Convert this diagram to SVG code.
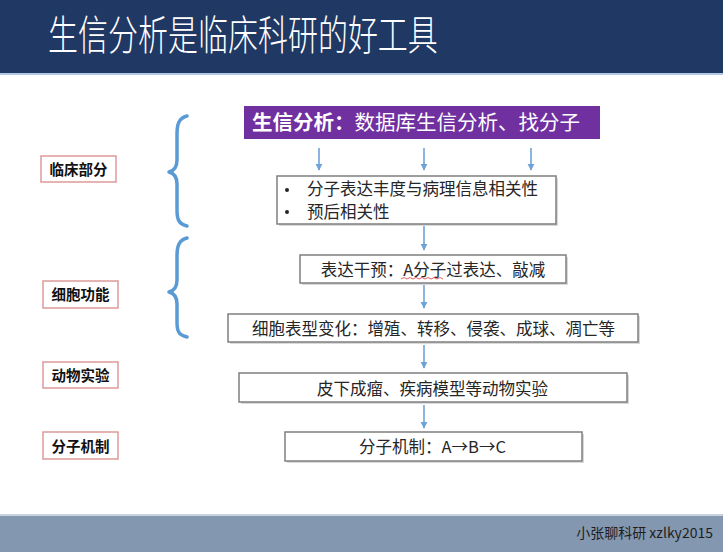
<svg xmlns="http://www.w3.org/2000/svg" width="723" height="552" viewBox="0 0 723 552">
<style>
.cjk{font-family:"Noto Sans CJK SC","Liberation Sans",sans-serif}
.box{fill:#ffffff;stroke:#7f7f7f;stroke-width:1.5}
.shadow{fill:#d9d9d9}
.lbl{fill:#ffffff;stroke:#dc9a99;stroke-width:1.5}
.lbltxt{font-family:"Noto Sans CJK SC",sans-serif;font-size:14.5px;font-weight:700;fill:#111111;text-anchor:middle}
.body{font-family:"Noto Sans CJK SC",sans-serif;font-size:16.5px;fill:#262626}
.brace{fill:none;stroke:#5b9bd5;stroke-width:3.5;stroke-linecap:round;stroke-linejoin:round}
.arr{stroke:#6fa3d8;stroke-width:1.6;fill:none}
</style>
<defs>
<marker id="ah" viewBox="0 0 10 10" refX="9" refY="5" markerWidth="4.5" markerHeight="4.5" orient="auto" markerUnits="strokeWidth">
<path d="M0,0 L10,5 L0,10 Z" fill="#6fa3d8"/>
</marker>
</defs>
<rect x="0" y="0" width="723" height="552" fill="#ffffff"/>
<!-- header -->
<g id="header">
<rect x="0" y="0" width="723" height="73" fill="#203864"/>
<rect x="0" y="73" width="723" height="2" fill="#b4c7e7"/>
<text class="cjk" transform="translate(48,50) scale(1,1.35)" font-size="30" font-weight="300" fill="#ffffff">生信分析是临床科研的好工具</text>
</g>
<!-- footer -->
<g id="footer">
<rect x="0" y="514" width="723" height="2" fill="#c9d2df"/>
<rect x="0" y="516" width="723" height="36" fill="#8497b0"/>
<text class="cjk" x="713" y="538" font-size="14" fill="#1e1e1e" text-anchor="end">小张聊科研 xzlky2015</text>
</g>
<!-- braces -->
<g id="brace1"><path class="brace" d="M187,116 C179,118 177,124 177,134 L177,160 C177,168 173,171 169,172 C173,173 177,176 177,184 L177,210 C177,220 179,224 187,226"/></g>
<g id="brace2"><path class="brace" d="M187,238 C179,240 177,246 177,256 L177,280 C177,288 173,291 169,292 C173,293 177,296 177,304 L177,322 C177,332 179,335 187,337"/></g>
<!-- left labels -->
<g id="label-clinical"><rect class="lbl" x="41" y="156" width="75" height="26"/><text class="lbltxt" x="78.5" y="174.5">临床部分</text></g>
<g id="label-cell"><rect class="lbl" x="43" y="281" width="75" height="27"/><text class="lbltxt" x="80.5" y="300">细胞功能</text></g>
<g id="label-animal"><rect class="lbl" x="43" y="362" width="75" height="26"/><text class="lbltxt" x="80.5" y="381">动物实验</text></g>
<g id="label-mech"><rect class="lbl" x="43" y="432" width="75" height="27"/><text class="lbltxt" x="80.5" y="452">分子机制</text></g>
<!-- purple node -->
<g id="node-bioinfo">
<rect x="244" y="106" width="356" height="33" fill="#7030a0"/>
<text class="cjk" x="252" y="130" font-size="20.5" fill="#ffffff"><tspan font-weight="700">生信分析：</tspan>数据库生信分析、找分子</text>
</g>
<!-- node 2 -->
<g id="node-correlation">
<rect class="shadow" x="279" y="178" width="279" height="48"/>
<rect class="box" x="277" y="176" width="279" height="48"/>
<circle cx="287" cy="190" r="2" fill="#262626"/>
<circle cx="287" cy="212" r="2" fill="#262626"/>
<text class="body" x="307" y="195">分子表达丰度与病理信息相关性</text>
<text class="body" x="307" y="218">预后相关性</text>
</g>
<!-- node 3 -->
<g id="node-intervention">
<rect class="shadow" x="302" y="257" width="266" height="28"/>
<rect class="box" x="300" y="255" width="266" height="28"/>
<text class="body" x="433" y="276" text-anchor="middle">表达干预：A分子过表达、敲减</text>
<path d="M401,279 l3,-1.5 l3,1.5 l3,-1.5 l3,1.5 l3,-1.5 l3,1.5 l3,-1.5 l3,1.5 l3,-1.5 l3,1.5 l3,-1.5 l3,1.5 l3,-1.5 l3,1.5" fill="none" stroke="#e05050" stroke-width="0.9"/>
</g>
<!-- node 4 -->
<g id="node-phenotype">
<rect class="shadow" x="230" y="316" width="410" height="28"/>
<rect class="box" x="228" y="314" width="410" height="28"/>
<text class="body" x="433.5" y="335" text-anchor="middle">细胞表型变化：增殖、转移、侵袭、成球、凋亡等</text>
</g>
<!-- node 5 -->
<g id="node-animal">
<rect class="shadow" x="241" y="375" width="388" height="29"/>
<rect class="box" x="239" y="373" width="388" height="29"/>
<text class="body" x="432.5" y="395" text-anchor="middle">皮下成瘤、疾病模型等动物实验</text>
</g>
<!-- node 6 -->
<g id="node-mechanism">
<rect class="shadow" x="287" y="434" width="297" height="29"/>
<rect class="box" x="285" y="432" width="297" height="29"/>
<text class="body" x="432.5" y="453" text-anchor="middle">分子机制：A→B→C</text>
</g>
<!-- connectors -->
<g id="connectors">
<line class="arr" x1="319" y1="148" x2="319" y2="170" marker-end="url(#ah)"/>
<line class="arr" x1="424" y1="148" x2="424" y2="170" marker-end="url(#ah)"/>
<line class="arr" x1="531" y1="148" x2="531" y2="170" marker-end="url(#ah)"/>
<line class="arr" x1="424" y1="226" x2="424" y2="250" marker-end="url(#ah)"/>
<line class="arr" x1="424" y1="285" x2="424" y2="308" marker-end="url(#ah)"/>
<line class="arr" x1="424" y1="345" x2="424" y2="368" marker-end="url(#ah)"/>
<line class="arr" x1="424" y1="405" x2="424" y2="428" marker-end="url(#ah)"/>
</g>
</svg>
